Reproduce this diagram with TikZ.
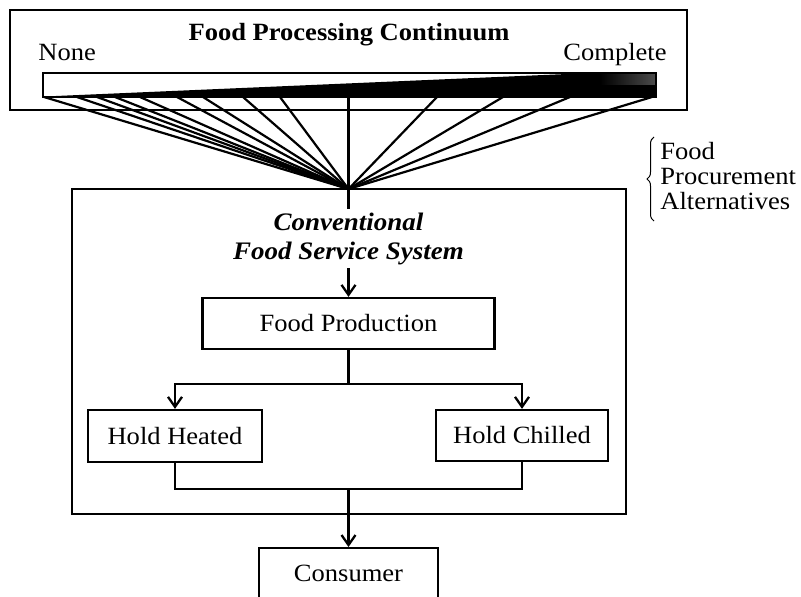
\documentclass[tikz,border=0pt]{standalone}
\usepackage{fontspec}
\setmainfont[FakeStretch=1.07]{Liberation Serif}
\usetikzlibrary{arrows.meta,decorations.pathreplacing}
\begin{document}
\begin{tikzpicture}[x=0.5pt,y=-0.5pt,
  font=\fontsize{12.4}{14}\selectfont,
  frame/.style={draw,line width=1.15pt,inner sep=0pt},
  box/.style={draw,line width=1.15pt,inner sep=0pt},
  fan/.style={line width=1.1pt},
  conn/.style={line width=1.15pt},
  arr/.style={line width=1.15pt,-{Straight Barb[length=5pt,width=7pt,line width=1.15pt]}},
  lbl/.style={inner sep=0pt,anchor=base}]
\useasboundingbox (0,0) rectangle (801,596);
\fill[white] (0,0) rectangle (801,596);

% top frame
\node[frame,minimum width=338.5pt,minimum height=50pt] (proc) at (348.5,60) {};
\node[lbl,font=\fontsize{12.4}{14}\selectfont\bfseries] (title) at (349,40) {Food Processing Continuum};
\node[lbl,anchor=base west] (none) at (38,60) {None};
\node[lbl,anchor=base east] (complete) at (667,60) {Complete};

% processing bar
\fill[black] (44,96.5) -- (590,73) -- (656,73) -- (656,97) -- cycle;
\shade[left color=black,right color=black!70] (600,73) rectangle (656,84);
\node[draw,line width=1pt,inner sep=0pt,minimum width=306.5pt,minimum height=12pt] (bar) at (349.5,85) {};

% fan of procurement alternatives
\coordinate (apex) at (348.5,189);
\foreach \px [count=\i] in {44,77,97,115,140,177,203,243,280,348.5,437,503,570,652}{
  \coordinate (b\i) at (\px,97);
  \draw[fan] (b\i) -- (apex);
}

% brace label
\draw[line width=0.5pt,decorate,decoration={brace,amplitude=3.5pt}] (654,221) -- (654,137);
\node[lbl,anchor=base west] (fpa1) at (660,159) {Food};
\node[lbl,anchor=base west] (fpa2) at (660,184) {Procurement};
\node[lbl,anchor=base west] (fpa3) at (660,209) {Alternatives};

% conventional system frame
\node[frame,line width=1.2pt,minimum width=277pt,minimum height=162.5pt] (sys) at (349,351.5) {};
\coordinate (apexend) at (348.5,209);
\draw[conn] (apex) -- (apexend);
\node[lbl,font=\fontsize{12.6}{14}\selectfont\bfseries\itshape] (conv1) at (348.5,230) {Conventional};
\node[lbl,font=\fontsize{12.6}{14}\selectfont\bfseries\itshape] (conv2) at (348.5,259) {Food Service System};

\node[box,minimum width=146pt,minimum height=25.5pt] (fp) at (348.5,323.5) {Food Production};
\node[box,minimum width=87pt,minimum height=26pt] (hh) at (175,436) {Hold Heated};
\node[box,minimum width=86pt,minimum height=25.5pt] (hc) at (522,435.5) {Hold Chilled};
\node[box,minimum width=89.5pt,minimum height=25pt,anchor=north] (cons) at (348.5,547) {Consumer};

\coordinate (fpin) at (348.5,268);
\draw[arr] (fpin) -- (fp.north);
\coordinate (split) at (348.5,384);
\draw[conn] (fp.south) -- (split);
\draw[arr] (split) -| (hh.north);
\draw[arr] (split) -| (hc.north);
\coordinate (merge) at (348.5,489);
\draw[conn] (hh.south) |- (merge);
\draw[conn] (hc.south) |- (merge);
\draw[arr] (merge) -- (cons.north);
\end{tikzpicture}
\end{document}
